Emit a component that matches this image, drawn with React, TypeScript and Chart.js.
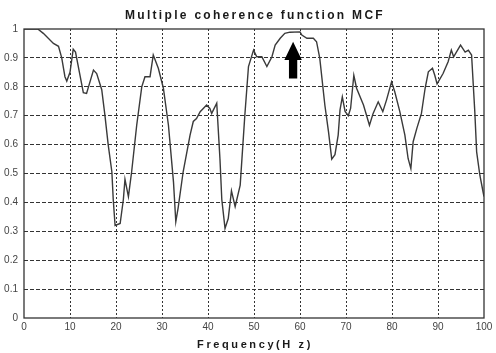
import React, { useEffect, useRef } from "react";
import { Chart, registerables } from "chart.js";

Chart.register(...registerables);

const TITLE = "Multiple coherence function MCF";
const X_TITLE = "Frequency(H z)";

const freqHz = [
  0, 3, 4.2, 6.4, 7.5, 8.2, 8.9, 9.3, 10, 10.7, 11.2, 12.9, 13.6, 15.1, 15.8, 16.9,
  17.6, 18.3, 19.1, 19.4, 19.8, 20.9, 21.6, 21.95, 22.7, 23.4, 24.5, 25.6, 26.3, 27.4,
  28.1, 29.2, 30.3, 31.4, 32.5, 33.0, 33.5, 34.6, 36.1, 36.8, 37.5, 38.3, 39.7, 40.4,
  40.8, 41.9, 42.6, 43.0, 43.7, 44.4, 45.1, 45.9, 47.0, 48.0, 48.8, 49.9, 50.6, 51.7,
  52.8, 53.9, 54.6, 55.7, 56.7, 57.8, 60.0, 60.4, 61.5, 62.9, 63.6, 64.3, 65.4, 66.2,
  66.9, 67.6, 68.3, 68.7, 69.2, 69.8, 70.5, 71.0, 71.7, 72.3, 73.8, 75.1, 75.9, 77.0,
  78.0, 78.8, 79.9, 80.6, 81.7, 82.8, 83.5, 84.1, 84.6, 85.4, 86.4, 87.2, 87.9, 88.8,
  89.3, 89.8, 91.1, 92.2, 92.9, 93.4, 94.0, 94.9, 95.9, 96.6, 97.3, 98.0, 98.4, 99.1,
  99.8, 100,
];

const mcfValues = [
  1.0, 1.0, 0.985, 0.95, 0.94, 0.9, 0.835, 0.82, 0.85, 0.93, 0.92, 0.78, 0.777, 0.858, 0.846, 0.79,
  0.7, 0.6, 0.506, 0.41, 0.32, 0.327, 0.41, 0.48, 0.42, 0.506, 0.667, 0.8, 0.835, 0.835,
  0.91, 0.864, 0.795, 0.667, 0.47, 0.333, 0.38, 0.506, 0.633, 0.68, 0.69, 0.714, 0.737, 0.725,
  0.708, 0.743, 0.55, 0.41, 0.31, 0.344, 0.44, 0.385, 0.46, 0.7, 0.87, 0.927, 0.904, 0.904,
  0.87, 0.904, 0.944, 0.968, 0.985, 0.989, 0.99, 0.979, 0.968, 0.968, 0.956, 0.898, 0.737, 0.644,
  0.55, 0.565, 0.633, 0.72, 0.765, 0.715, 0.7, 0.725, 0.84, 0.795, 0.737, 0.667, 0.708, 0.748,
  0.714, 0.754, 0.817, 0.783, 0.714, 0.633, 0.552, 0.517, 0.61, 0.656, 0.708, 0.795, 0.852, 0.864,
  0.84, 0.81, 0.846, 0.887, 0.927, 0.904, 0.92, 0.944, 0.92, 0.927, 0.91, 0.714, 0.575, 0.494,
  0.436, 0.42,
];

// Arrow annotation outline (data coordinates)
const arrowX = [58.5, 60.4, 59.4, 59.4, 57.6, 57.6, 56.6];
const arrowY = [0.956, 0.893, 0.893, 0.829, 0.829, 0.893, 0.893];

const FONT = "'Liberation Sans', Arial, Helvetica, sans-serif";

const fmtY = (v: number) => {
  const r = Math.round(v * 10) / 10;
  if (r === 0) return "0";
  if (r === 1) return "1";
  return r.toFixed(1);
};

const decorPlugin = {
  id: "decor",
  afterDraw(chart: any) {
    const { ctx, chartArea, scales } = chart;
    const xs = scales.x;
    const ys = scales.y;
    ctx.save();
    // frame
    ctx.strokeStyle = "#333";
    ctx.lineWidth = 1.3;
    ctx.setLineDash([]);
    ctx.strokeRect(chartArea.left, chartArea.top, chartArea.right - chartArea.left, chartArea.bottom - chartArea.top);
    // arrow
    ctx.fillStyle = "#000";
    ctx.beginPath();
    arrowX.forEach((v, i) => {
      const px = xs.getPixelForValue(v);
      const py = ys.getPixelForValue(arrowY[i]);
      if (i === 0) ctx.moveTo(px, py);
      else ctx.lineTo(px, py);
    });
    ctx.closePath();
    ctx.fill();
    // titles
    const cx = (chartArea.left + chartArea.right) / 2;
    ctx.fillStyle = "#1a1a1a";
    ctx.textAlign = "center";
    ctx.textBaseline = "alphabetic";
    try { (ctx as any).letterSpacing = "2.3px"; } catch (e) {}
    ctx.font = "bold 12px " + FONT;
    ctx.fillText(TITLE, cx + 1, 19);
    try { (ctx as any).letterSpacing = "2.6px"; } catch (e) {}
    ctx.font = "bold 11px " + FONT;
    ctx.fillText(X_TITLE, cx + 1, 347.5);
    ctx.restore();
  },
};

export default function App() {
  const ref = useRef<HTMLCanvasElement>(null);
  useEffect(() => {
    const canvas = ref.current;
    if (!canvas) return;
    const pts = freqHz.map((f, i) => ({ x: f, y: mcfValues[i] }));
    const chart = new Chart(canvas, {
      type: "line",
      data: {
        datasets: [
          {
            label: "MCF",
            data: pts,
            borderColor: "#3a3a3a",
            borderWidth: 1.4,
            pointRadius: 0,
            tension: 0,
            fill: false,
          },
        ],
      },
      options: {
        animation: false,
        responsive: false,
        maintainAspectRatio: false,
        layout: { padding: { left: 0, top: 29, right: 12, bottom: 0 } },
        plugins: { legend: { display: false }, tooltip: { enabled: false }, title: { display: false } },
        scales: {
          x: {
            type: "linear",
            min: 0,
            max: 100,
            afterFit: (s: any) => { s.height = 35; },
            ticks: { stepSize: 10, color: "#444", font: { size: 10, family: FONT }, padding: 3, maxRotation: 0 },
            grid: {
              drawTicks: false,
              color: (c: any) => (c.tick && (c.tick.value === 0 || c.tick.value === 100) ? "rgba(0,0,0,0)" : "#333"),
              lineWidth: 1,
            },
            border: { display: false, dash: [2, 2] },
          },
          y: {
            type: "linear",
            min: 0,
            max: 1,
            afterFit: (s: any) => { s.width = 24; },
            ticks: {
              stepSize: 0.1,
              color: "#444",
              font: { size: 10, family: FONT },
              padding: 6,
              callback: (v: any) => fmtY(Number(v)),
            },
            grid: {
              drawTicks: false,
              color: (c: any) => (c.tick && (c.tick.value <= 0.0001 || c.tick.value >= 0.9999) ? "rgba(0,0,0,0)" : "#333"),
              lineWidth: 1,
            },
            border: { display: false, dash: [4, 2] },
          },
        },
      },
      plugins: [decorPlugin],
    });
    return () => chart.destroy();
  }, []);
  return (
    <div style={{ position: "fixed", left: 0, top: 0, width: 496, height: 353, background: "#fff" }}>
      <canvas ref={ref} width={496} height={353} style={{ display: "block" }} />
    </div>
  );
}
